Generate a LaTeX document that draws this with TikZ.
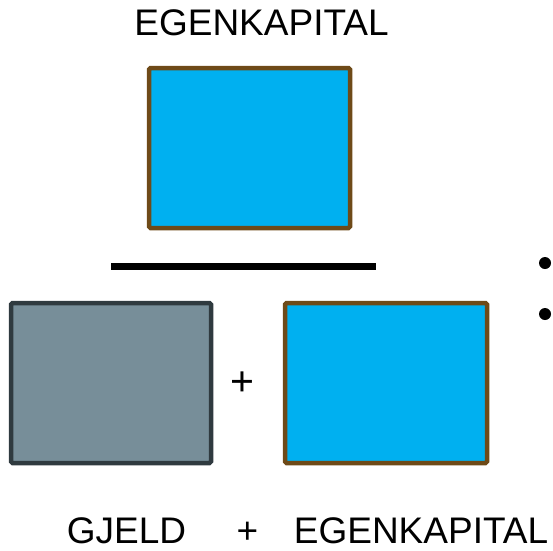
\documentclass[tikz,border=0pt]{standalone}
\usepackage{fontspec}
\setmainfont{Liberation Sans}
\definecolor{boxblue}{HTML}{00B0F0}
\definecolor{boxbrown}{HTML}{6E4A18}
\definecolor{gfill}{HTML}{778E99}
\definecolor{gline}{HTML}{2F3A3F}
\tikzset{
  bluebox/.style={draw=boxbrown, fill=boxblue, line width=4.5pt, rounded corners=1.5pt},
  greybox/.style={draw=gline, fill=gfill, line width=4.5pt, rounded corners=1.5pt},
  lbl/.style={font=\fontsize{37}{44}\selectfont, inner sep=0pt, anchor=base},
  bul/.style={circle, fill=black, inner sep=0pt, minimum size=12pt},
}
\begin{document}
\begin{tikzpicture}[x=1pt,y=-1pt]
\useasboundingbox (0,0) rectangle (553,550);
\node[lbl] (title) at (261.5,35) {EGENKAPITAL};
\draw[bluebox] (149,68) rectangle (350,228);
\draw[line width=7pt] (111,266) -- (376,266);
\draw[greybox] (11,303) rectangle (211,463);
\draw[bluebox] (285,303) rectangle (487,463);
\node[lbl, font=\fontsize{41}{48}\selectfont] (plus) at (242,395.5) {+};
\node[lbl] (gjeld) at (126.5,543) {GJELD};
\node[lbl] (plus2) at (247.5,543) {+};
\node[lbl] (egen) at (421,543) {EGENKAPITAL};
\node[bul] (b1) at (545,263) {};
\node[bul] (b2) at (545,314) {};
\end{tikzpicture}
\end{document}
